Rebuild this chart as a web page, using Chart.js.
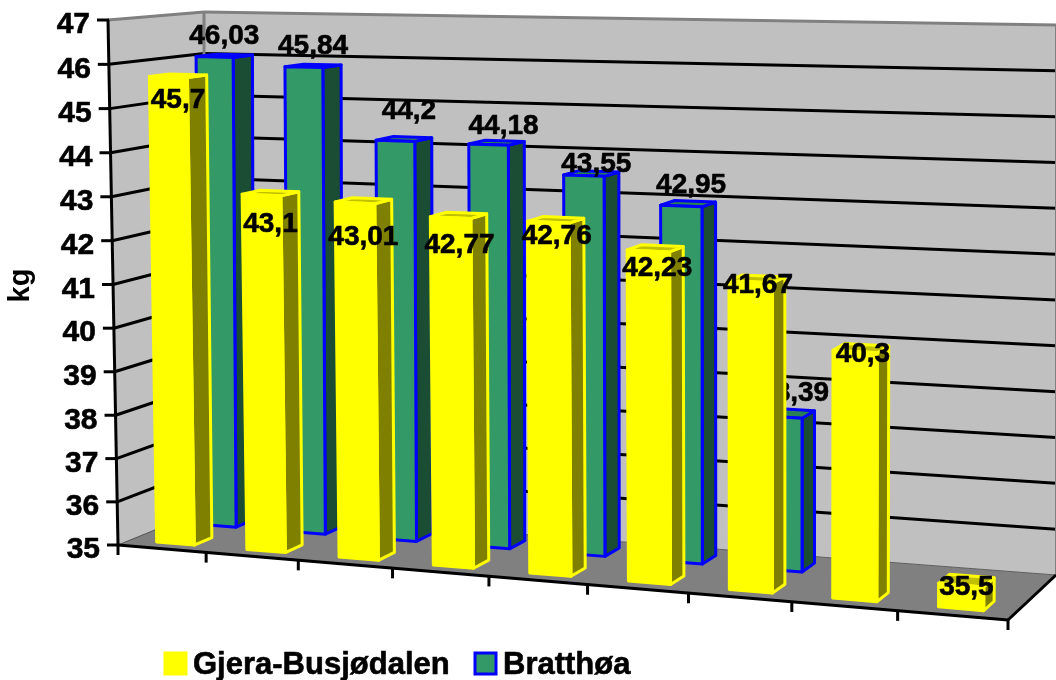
<!DOCTYPE html>
<html>
<head>
<meta charset="utf-8">
<style>html,body{margin:0;padding:0;background:#fff}canvas{display:block}</style>
<script src="https://cdn.jsdelivr.net/npm/chart.js@4/dist/chart.umd.min.js"></script>
</head>
<body>
<canvas id="c" width="1056" height="680"></canvas>
<script>
const categories = ['1','2','3','4','5','6','7','8','9'];
const seriesNames = ['Gjera-Busjødalen','Bratthøa'];
const gjeraBusjodalen = [45.7,43.1,43.01,42.77,42.76,42.23,41.67,40.3,35.5];
const bratthoa = [46.03,45.84,44.2,44.18,43.55,42.95,38.39,null,null];
const yMin = 35, yMax = 47;
const axisTitle = 'kg';
const FONT = '"Liberation Sans", Arial, sans-serif';

// data-label placement nudges (px, relative to the centre of the bar top)
const labelNudgeY = [[22,28,33,27,13,16,3,2,1],[-22,-22,-30,-19,-12,-22,-25,0,0]];
const labelNudgeX = [[0,0,0,1,1,2,1,2,0],[0,0,5,7,5,3,7,0,0]];

// view: corners of the front and back planes of the 3D box
const front = quad([118,545],[1008,620],[1012,38],[108,20]);
const back  = quad([204,510],[1056,575],[1056,25],[204,12]);
function quad(p0,p1,p2,p3){
  const dx1=p1[0]-p2[0],dx2=p3[0]-p2[0],sx=p0[0]-p1[0]+p2[0]-p3[0];
  const dy1=p1[1]-p2[1],dy2=p3[1]-p2[1],sy=p0[1]-p1[1]+p2[1]-p3[1];
  const det=dx1*dy2-dx2*dy1;
  const g=(sx*dy2-dx2*sy)/det,h=(dx1*sy-sx*dy1)/det;
  const a=p1[0]-p0[0]+g*p1[0],b=p3[0]-p0[0]+h*p3[0],c=p0[0];
  const d=p1[1]-p0[1]+g*p1[1],e=p3[1]-p0[1]+h*p3[1],f=p0[1];
  return (u,v)=>{const q=g*u+h*v+1;return [(a*u+b*v+c)/q,(d*u+e*v+f)/q];};
}
function P(u,v,w){
  const A=front(u,v),B=back(u,v);
  return [A[0]+(B[0]-A[0])*w,A[1]+(B[1]-A[1])*w];
}
function poly(ctx,pts,fill,stroke,lw){
  ctx.beginPath();
  pts.forEach((p,i)=>i?ctx.lineTo(p[0],p[1]):ctx.moveTo(p[0],p[1]));
  ctx.closePath();
  if(fill){ctx.fillStyle=fill;ctx.fill();}
  if(stroke&&lw){ctx.strokeStyle=stroke;ctx.lineWidth=lw;ctx.lineJoin='round';ctx.stroke();}
}
function line(ctx,a,b,color,lw){
  ctx.beginPath();ctx.moveTo(a[0],a[1]);ctx.lineTo(b[0],b[1]);
  ctx.strokeStyle=color;ctx.lineWidth=lw;ctx.lineCap='butt';ctx.stroke();
}
function boldText(ctx,s,x,y){
  ctx.lineWidth=0.6;ctx.strokeStyle='#000';ctx.lineJoin='round';
  ctx.fillText(s,x,y);ctx.strokeText(s,x,y);
}

const depthSlots = [[0.15,0.36],[0.65,0.86]];
const shades = [{side:'#808000',top:'#C0C000'},{side:'#1A4D33',top:'#2A8055'}];

const box3d = {
  id:'box3d',
  beforeDatasetsDraw(chart){
    const {ctx,scales:{x,y},chartArea:ca}=chart;
    const V=val=>(ca.bottom-y.getPixelForValue(val))/(ca.bottom-ca.top);
    // walls and floor
    poly(ctx,[P(0,0,0),P(0,0,1),P(0,1,1),P(0,1,0)],'#C0C0C0');
    poly(ctx,[P(0,0,1),P(1,0,1),P(1,1,1),P(0,1,1)],'#C0C0C0');
    poly(ctx,[P(0,0,0),P(1,0,0),P(1,0,1),P(0,0,1)],'#808080');
    // gridlines
    y.ticks.forEach(t=>{
      if(t.value===yMin||t.value===yMax) return;
      const v=V(t.value);
      line(ctx,P(0,v,0),P(0,v,1),'#000',3);
      line(ctx,P(0,v,1),P(1,v,1),'#000',3);
    });
    // wall edges
    line(ctx,P(0,1,0),P(0,1,1),'#808080',3);
    line(ctx,P(0,1,1),P(1,1,1),'#808080',3);
    line(ctx,P(0,0,1),P(0,1,1),'#808080',3);
    line(ctx,P(1,0,1),P(1,1,1),'#808080',2);
    line(ctx,P(0,0,1),P(1,0,1),'#606060',1);
    line(ctx,P(0,0,0),P(0,0,1),'#505050',1);
    // axis lines and ticks
    line(ctx,P(0,0,0),P(0,1,0),'#000',3);
    line(ctx,P(0,0,0),P(1,0,0),'#000',3);
    line(ctx,P(1,0,0),P(1,0,1),'#000',3);
    y.ticks.forEach(t=>{
      const p=P(0,V(t.value),0);
      line(ctx,[p[0]-11,p[1]],[p[0]+1,p[1]],'#000',3);
    });
    const n=categories.length, step=ca.width/n;
    for(let i=0;i<=n;i++){
      const px=x.getPixelForTick(Math.min(i,n-1))+(i===n?step/2:-step/2);
      const p=P((px-ca.left)/ca.width,0,0);
      const sx=(i>0&&i<n)?p[0]-2:p[0];
      line(ctx,[sx,p[1]-1],[sx,p[1]+10],'#000',3);
    }
  },
  beforeDatasetDraw(chart,args){
    const {ctx,chartArea:ca}=chart;
    const idx=args.index, [w0,w1]=depthSlots[idx], sh=shades[idx];
    const values=chart.data.datasets[idx].data;
    const pts=args.meta.data;
    pts.forEach((el,i)=>{
      if(values[i]==null) return;
      const o=el.options, lw=o.borderWidth;
      const uL=(el.x-el.width/2-ca.left)/ca.width, uR=(el.x+el.width/2-ca.left)/ca.width;
      const vT=(ca.bottom-el.y)/(ca.bottom-ca.top), vB=0;
      poly(ctx,[P(uR,vB,w0),P(uR,vB,w1),P(uR,vT,w1),P(uR,vT,w0)],sh.side,o.borderColor,lw);
      poly(ctx,[P(uL,vT,w0),P(uR,vT,w0),P(uR,vT,w1),P(uL,vT,w1)],sh.top,o.borderColor,lw);
      poly(ctx,[P(uL,vB,w0),P(uR,vB,w0),P(uR,vT,w0),P(uL,vT,w0)],o.backgroundColor,o.borderColor,lw);
    });
    // data labels are painted with their own series, so later bars can cover them
    ctx.font='bold 28px '+FONT;ctx.fillStyle='#000';ctx.textAlign='center';ctx.textBaseline='middle';
    pts.forEach((el,i)=>{
      if(values[i]==null) return;
      const uL=(el.x-el.width/2-ca.left)/ca.width, uR=(el.x+el.width/2-ca.left)/ca.width;
      const vT=(ca.bottom-el.y)/(ca.bottom-ca.top);
      const cx=(P(uL,vT,w0)[0]+P(uR,vT,w1)[0])/2+labelNudgeX[idx][i];
      const cy=P((uL+uR)/2,vT,w0)[1]+labelNudgeY[idx][i];
      boldText(ctx,String(values[i]).replace('.',','),cx,cy+1);
    });
    return false;
  },
  afterDraw(chart){
    const {ctx}=chart;
    const items=[[165,193],[475,503]];
    chart.data.datasets.forEach((d,i)=>{
      const [bx,tx]=items[i];
      ctx.fillStyle=d.backgroundColor;ctx.fillRect(bx,653,21,21);
      ctx.strokeStyle=d.borderColor;ctx.lineWidth=d.borderWidth;ctx.lineJoin='miter';ctx.strokeRect(bx,653,21,21);
      ctx.font='bold 31px '+FONT;ctx.fillStyle='#000';ctx.textAlign='left';ctx.textBaseline='middle';
      boldText(ctx,d.label,tx,665);
    });
  }
};

new Chart(document.getElementById('c'),{
  type:'bar',
  data:{labels:categories,datasets:[
    {label:seriesNames[0],data:gjeraBusjodalen,backgroundColor:'#FFFF00',borderColor:'#FFFF00',borderWidth:3,grouped:false,barPercentage:0.42,categoryPercentage:1},
    {label:seriesNames[1],data:bratthoa,backgroundColor:'#339966',borderColor:'#0000FF',borderWidth:3,grouped:false,barPercentage:0.42,categoryPercentage:1}
  ]},
  options:{
    responsive:false,animation:false,
    layout:{padding:{left:0,right:48,top:7,bottom:125}},
    plugins:{legend:{display:false},title:{display:false},tooltip:{enabled:false}},
    scales:{
      x:{grid:{display:false},border:{display:false},ticks:{display:false}},
      y:{min:yMin,max:yMax,
        grid:{display:false,drawTicks:false},border:{display:false},
        ticks:{stepSize:1,padding:18,color:'#000',font:{family:FONT,size:30,weight:'bold'}},
        title:{display:true,text:axisTitle,color:'#000',font:{family:FONT,size:29,weight:'bold'},padding:{top:4,bottom:0}},
        afterFit(s){
          s.width=118;
          // tick labels follow the slanted front edge of the 3D box
          s.drawLabels=function(){
            const ctx=this.ctx, ca=this.chart.chartArea;
            ctx.save();
            ctx.font='bold 30px '+FONT;ctx.fillStyle='#000';ctx.textAlign='right';ctx.textBaseline='middle';
            this.ticks.forEach(t=>{
              const px=this.getPixelForValue(t.value);
              const p=P(0,(ca.bottom-px)/(ca.bottom-ca.top),0);
              boldText(ctx,String(t.label),p[0]-18,p[1]+5);
            });
            ctx.restore();
          };
          if(!s._titleShifted){
            s._titleShifted=true;
            const drawTitle=s.drawTitle;
            s.drawTitle=function(){
              this.ctx.save();this.ctx.translate(0,-6);
              drawTitle.call(this);
              this.ctx.restore();
            };
          }
        }
      }
    }
  },
  plugins:[box3d]
});
</script>
</body>
</html>
